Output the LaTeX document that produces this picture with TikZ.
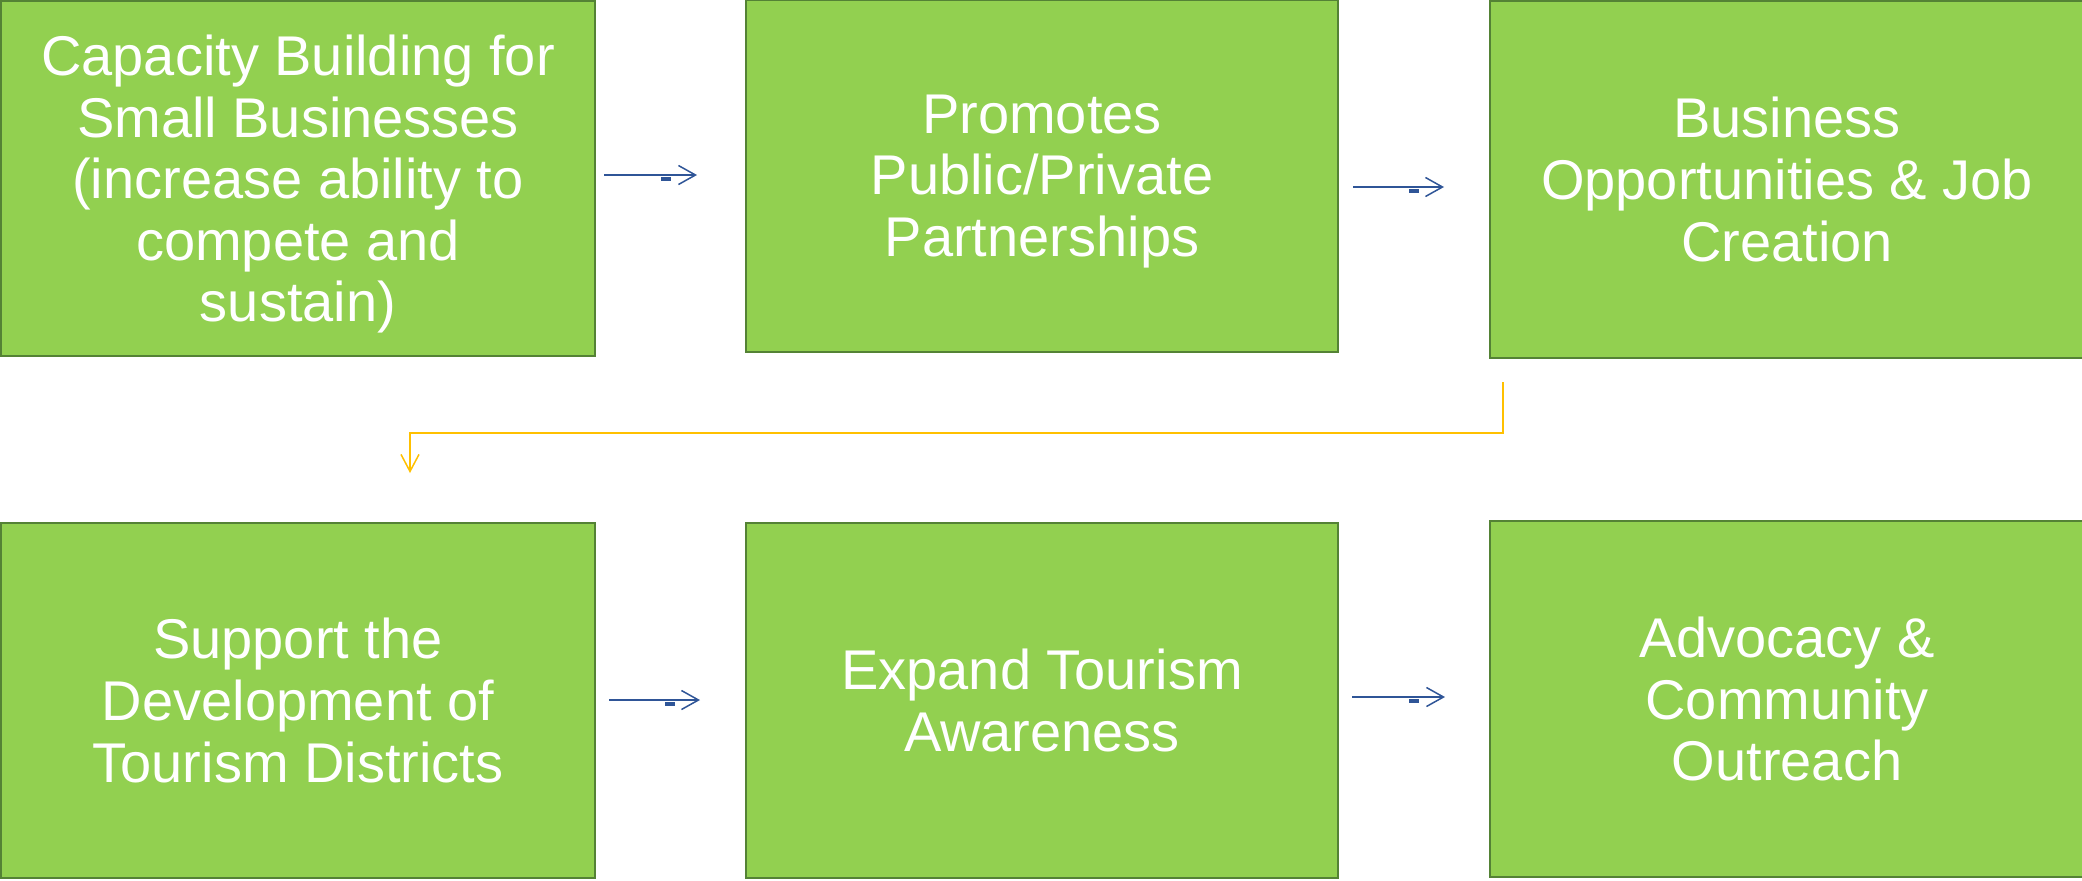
\documentclass[tikz,border=0pt]{standalone}
\usepackage{fontspec}
\setmainfont{Liberation Sans}
\usetikzlibrary{arrows.meta,calc}
\definecolor{boxfill}{HTML}{92D050}
\definecolor{boxline}{HTML}{548235}
\definecolor{flowblue}{HTML}{2F5597}
\definecolor{flowgold}{HTML}{FFC000}
\begin{document}
\begin{tikzpicture}[x=0.5pt,y=-0.5pt,
  box/.style={draw=boxline, line width=1pt, fill=boxfill, inner sep=0pt,
    text=white, align=center, font=\fontsize{28pt}{30.8pt}\selectfont},
  blueflow/.style={draw=flowblue, line width=0.75pt,
    -{Straight Barb[length=8.5pt,width=9.5pt,line width=0.75pt]}},
  goldflow/.style={draw=flowgold, line width=0.75pt,
    -{Straight Barb[length=8.5pt,width=9pt,line width=0.75pt]}},
  dashmark/.style={fill=flowblue, inner sep=0pt, minimum width=5pt, minimum height=2pt}]
\useasboundingbox (0,0) rectangle (2082,880);

\node[box, minimum width=297pt, minimum height=177.5pt] (b1) at (298,178.5)
  {\rule{0pt}{26pt}Capacity Building for\\Small Businesses\\(increase ability to\\compete and\\sustain)};
\node[box, minimum width=296pt, minimum height=176pt] (b2) at (1042,176)
  {\rule{0pt}{24.5pt}Promotes\\Public/Private\\Partnerships};
\node[box, minimum width=297pt, minimum height=178.5pt] (b3) at (1787,179.5)
  {Business\\Opportunities \& Job\\Creation};
\node[box, minimum width=297pt, minimum height=177.5pt] (b4) at (298,700.5)
  {Support the\\Development of\\Tourism Districts};
\node[box, minimum width=296pt, minimum height=177.5pt] (b5) at (1042,700.5)
  {Expand Tourism\\Awareness};
\node[box, minimum width=297pt, minimum height=178pt] (b6) at (1787,699)
  {Advocacy \&\\Community\\Outreach};

% blue connectors
\draw[blueflow] ($(b1.east)+(8,-3.5)$) coordinate (a1s) -- ($(b2.west |- a1s)+(-48,0)$)
  node[pos=0.67, dashmark, yshift=-2pt] (m1) {};
\draw[blueflow] ($(b2.east)+(14,11)$) coordinate (a2s) -- ($(b3.west |- a2s)+(-45,0)$)
  node[pos=0.67, dashmark, yshift=-2pt] (m2) {};
\draw[blueflow] ($(b4.east)+(13,-0.5)$) coordinate (a3s) -- ($(b5.west |- a3s)+(-45,0)$)
  node[pos=0.67, dashmark, yshift=-2pt] (m3) {};
\draw[blueflow] ($(b5.east)+(13,-3.5)$) coordinate (a4s) -- ($(b6.west |- a4s)+(-44,0)$)
  node[pos=0.67, dashmark, yshift=-2pt] (m4) {};

% gold elbow connector
\coordinate (g1) at ($(b3.south west)+(14,23)$);
\coordinate (g2) at ($(b4.north west)+(410,-49)$);
\draw[goldflow] (g1) -- ++(0,51) -| (g2);
\end{tikzpicture}
\end{document}
